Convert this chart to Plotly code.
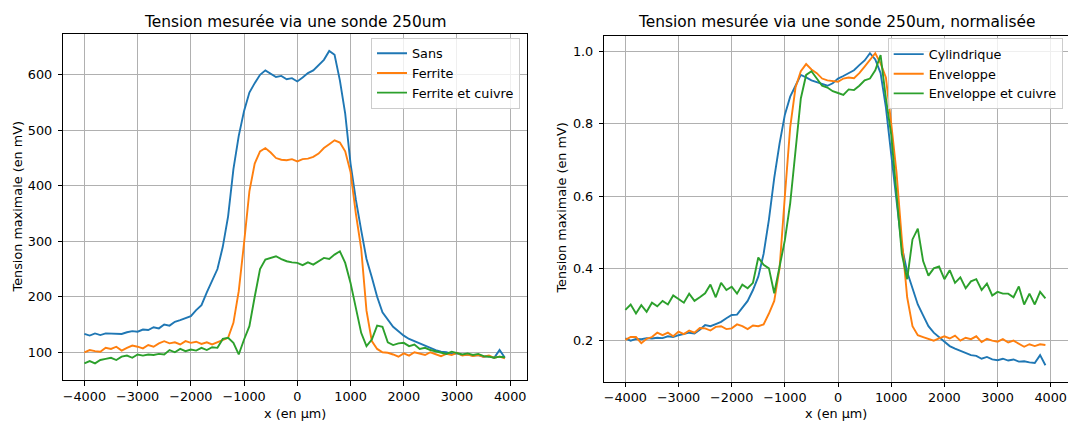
import plotly.graph_objects as go

# Positions along the probe path (µm), step 100
x_um = list(range(-4000, 4000, 100))

# Left panel: raw voltages (mV)
sans = [133, 130, 134, 131, 134, 134, 134, 133, 136, 138,
        137, 141, 140, 145, 143, 150, 148, 155, 158, 161,
        165, 176, 185, 208, 230, 250, 290, 345, 430, 490,
        535, 568, 585, 600, 608, 602, 596, 598, 592, 594,
        588, 595, 603, 608, 618, 627, 643, 636, 590, 530,
        440, 375, 320, 268, 235, 200, 172, 158, 146, 138,
        130, 124, 120, 116, 111, 108, 104, 101, 100, 97,
        98, 95, 96, 94, 95, 92, 93, 90, 104, 90]
ferrite = [100, 104, 102, 101, 108, 106, 110, 103, 108, 112,
           110, 107, 113, 110, 116, 120, 116, 118, 114, 120,
           117, 119, 115, 118, 114, 118, 122, 126, 153, 210,
           297, 390, 440, 462, 468, 460, 450, 447, 446, 448,
           444, 448, 449, 452, 458, 468, 475, 482, 478, 462,
           425, 350, 287, 175, 120, 106, 100, 99, 96, 92,
           98, 94, 100, 97, 95, 100, 96, 93, 97, 95,
           99, 94, 96, 93, 95, 92, 94, 90, 92, 89]
ferrite_cuivre = [80, 84, 80, 86, 88, 90, 86, 92, 94, 90,
                  96, 94, 96, 95, 97, 96, 104, 100, 106, 102,
                  105, 103, 108, 104, 109, 108, 124, 126, 117, 96,
                  123, 147, 200, 250, 267, 270, 273, 268, 264, 262,
                  261, 257, 262, 258, 264, 270, 268, 276, 282, 261,
                  225, 183, 135, 111, 123, 148, 146, 118, 113, 116,
                  117, 111, 114, 106, 108, 104, 102, 100, 97, 101,
                  99, 96, 98, 95, 97, 93, 92, 90, 92, 91]

# Right panel: normalised voltages
cylindrique = [0.206, 0.200, 0.205, 0.204, 0.207, 0.206, 0.208, 0.207, 0.212, 0.210,
               0.215, 0.218, 0.222, 0.220, 0.230, 0.243, 0.240, 0.246, 0.252, 0.262,
               0.271, 0.272, 0.290, 0.310, 0.340, 0.377, 0.440, 0.535, 0.650, 0.745,
               0.825, 0.875, 0.905, 0.935, 0.928, 0.920, 0.915, 0.910, 0.905, 0.912,
               0.925, 0.932, 0.940, 0.948, 0.962, 0.975, 0.995, 0.978, 0.940, 0.845,
               0.715, 0.580, 0.460, 0.390, 0.345, 0.300, 0.270, 0.240, 0.222, 0.210,
               0.198, 0.185, 0.178, 0.172, 0.165, 0.160, 0.158, 0.150, 0.155, 0.148,
               0.146, 0.150, 0.145, 0.148, 0.142, 0.143, 0.140, 0.138, 0.160, 0.132]
enveloppe = [0.202, 0.210, 0.210, 0.193, 0.205, 0.210, 0.222, 0.215, 0.222, 0.212,
             0.225, 0.218, 0.228, 0.222, 0.235, 0.234, 0.228, 0.238, 0.240, 0.232,
             0.234, 0.245, 0.240, 0.232, 0.242, 0.240, 0.245, 0.275, 0.310, 0.400,
             0.600, 0.790, 0.900, 0.945, 0.965, 0.950, 0.940, 0.925, 0.920, 0.918,
             0.916, 0.925, 0.928, 0.926, 0.940, 0.958, 0.975, 0.995, 0.967, 0.928,
             0.800, 0.665, 0.480, 0.320, 0.240, 0.215, 0.210, 0.204, 0.200, 0.206,
             0.212, 0.206, 0.214, 0.200, 0.208, 0.204, 0.212, 0.196, 0.205, 0.200,
             0.197, 0.204, 0.195, 0.200, 0.192, 0.183, 0.190, 0.185, 0.190, 0.188]
enveloppe_cuivre = [0.285, 0.300, 0.275, 0.298, 0.280, 0.305, 0.295, 0.310, 0.300, 0.325,
                    0.315, 0.305, 0.330, 0.310, 0.320, 0.331, 0.355, 0.320, 0.360, 0.340,
                    0.349, 0.330, 0.355, 0.345, 0.360, 0.430, 0.410, 0.400, 0.331, 0.404,
                    0.478, 0.580, 0.730, 0.870, 0.935, 0.945, 0.925, 0.905, 0.900, 0.890,
                    0.885, 0.880, 0.895, 0.893, 0.905, 0.920, 0.925, 0.948, 0.990, 0.870,
                    0.770, 0.600, 0.440, 0.370, 0.480, 0.510, 0.420, 0.380, 0.400, 0.405,
                    0.370, 0.395, 0.360, 0.375, 0.345, 0.364, 0.370, 0.340, 0.358, 0.325,
                    0.335, 0.330, 0.330, 0.320, 0.350, 0.300, 0.330, 0.300, 0.335, 0.317]

x_ticks = [-4000, -3000, -2000, -1000, 0, 1000, 2000, 3000, 4000]
left_y_ticks = [100, 200, 300, 400, 500, 600]
right_y_ticks = [0.2, 0.4, 0.6, 0.8, 1.0]
left_title = "Tension mesurée via une sonde 250um"
right_title = "Tension mesurée via une sonde 250um, normalisée"
x_label = "x (en µm)"
y_label = "Tension maximale (en mV)"

colors = ["#1f77b4", "#ff7f0e", "#2ca02c"]
FONT = "DejaVu Sans"
FS = 12.8
W, H = 1068, 424

fig = go.Figure()
left_series = [("Sans", sans), ("Ferrite", ferrite), ("Ferrite et cuivre", ferrite_cuivre)]
right_series = [("Cylindrique", cylindrique), ("Enveloppe", enveloppe),
                ("Enveloppe et cuivre", enveloppe_cuivre)]
for (name, ys), c in zip(left_series, colors):
    fig.add_trace(go.Scatter(x=x_um, y=ys, mode="lines", name=name,
                             line=dict(color=c, width=1.9), xaxis="x", yaxis="y",
                             legend="legend"))
for (name, ys), c in zip(right_series, colors):
    fig.add_trace(go.Scatter(x=x_um, y=ys, mode="lines", name=name,
                             line=dict(color=c, width=1.9), xaxis="x2", yaxis="y2",
                             legend="legend2"))

ax_common = dict(showline=True, mirror=True, linecolor="black", linewidth=1,
                 showgrid=True, gridcolor="#b0b0b0", gridwidth=1,
                 ticks="outside", ticklen=4.5, tickcolor="black", tickwidth=1,
                 zeroline=False, automargin=False,
                 tickfont=dict(family=FONT, size=FS, color="black"))

yd1 = [1 - 380 / H, 1 - 34.3 / H]
yd2 = [1 - 381.5 / H, 1 - 35.7 / H]
fig.update_layout(
    width=W, height=H,
    margin=dict(l=0, r=0, t=0, b=0, autoexpand=False),
    paper_bgcolor="white", plot_bgcolor="white",
    font=dict(family=FONT, size=FS, color="black"),
    xaxis=dict(domain=[63.3 / W, 527.3 / W], range=[-4396, 4321],
               tickmode="array", tickvals=x_ticks, anchor="y",
               ticklabelstandoff=0, **ax_common),
    yaxis=dict(domain=yd1, range=[50, 673], tickmode="array",
               tickvals=left_y_ticks, anchor="x", ticklabelstandoff=3, **ax_common),
    xaxis2=dict(domain=[604.3 / W, 1067.8 / W], range=[-4396, 4321],
                tickmode="array", tickvals=x_ticks, anchor="y2",
                ticklabelstandoff=0, **ax_common),
    yaxis2=dict(domain=yd2, range=[0.087, 1.0435], tickmode="array",
                tickvals=right_y_ticks, tickformat=".1f",
                anchor="x2", ticklabelstandoff=3, **ax_common),
    legend=dict(x=520 / W, y=1 - 37.5 / H, xanchor="right", yanchor="top",
                bgcolor="rgba(255,255,255,0.8)", bordercolor="#cccccc",
                borderwidth=1, font=dict(family=FONT, size=FS),
                tracegroupgap=0, itemwidth=30),
    legend2=dict(x=1062.7 / W, y=1 - 38.3 / H, xanchor="right", yanchor="top",
                 bgcolor="rgba(255,255,255,0.8)", bordercolor="#cccccc",
                 borderwidth=1, font=dict(family=FONT, size=FS),
                 tracegroupgap=0, itemwidth=30),
    showlegend=True,
)

ann = []
for (x0, x1), title in [((63.3, 527.3), left_title), ((604.3, 1068), right_title)]:
    cx = (x0 + x1) / 2 / W
    ann.append(dict(text=title, x=cx, y=1 - 21.7 / H, xref="paper", yref="paper",
                    showarrow=False, font=dict(family=FONT, size=15.4),
                    xanchor="center", yanchor="middle"))
    ann.append(dict(text=x_label, x=cx, y=1 - 413 / H, xref="paper", yref="paper",
                    showarrow=False, font=dict(family=FONT, size=FS),
                    xanchor="center", yanchor="middle"))
ann.append(dict(text=y_label, x=17.3 / W, y=(yd1[0] + yd1[1]) / 2, xref="paper",
                yref="paper", showarrow=False, textangle=-90,
                font=dict(family=FONT, size=FS), xanchor="center", yanchor="middle"))
ann.append(dict(text=y_label, x=562 / W, y=(yd2[0] + yd2[1]) / 2, xref="paper",
                yref="paper", showarrow=False, textangle=-90,
                font=dict(family=FONT, size=FS), xanchor="center", yanchor="middle"))
fig.update_layout(annotations=ann)

fig.write_html("out.html",
               config={"displayModeBar": False},
               post_script="document.body.style.margin='0';"
                           "document.body.style.overflow='hidden';")
